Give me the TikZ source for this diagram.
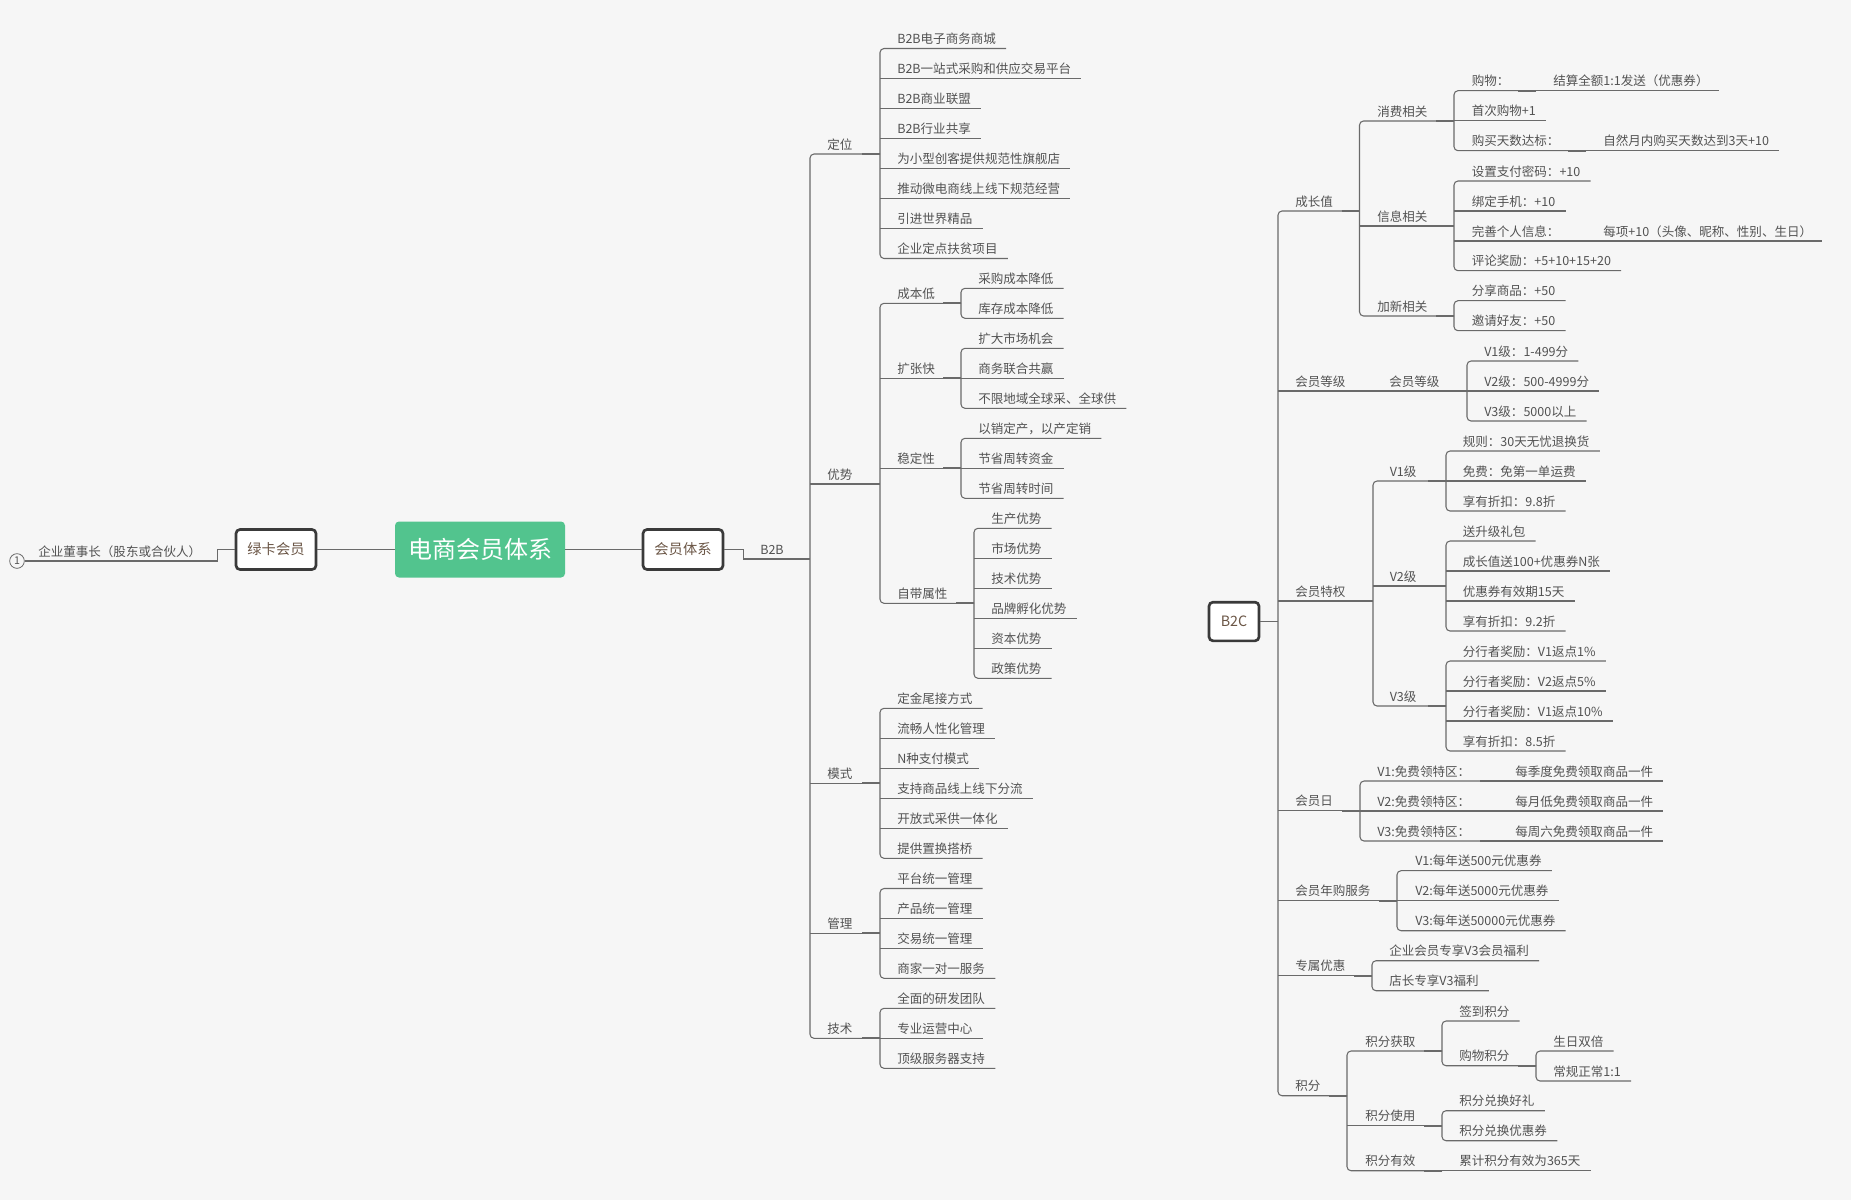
\documentclass[tikz,border=0pt]{standalone}
\usepackage{fontspec}
\newfontfamily\cjk{Noto Sans CJK SC}
\usetikzlibrary{calc}
\definecolor{bgc}{HTML}{F6F6F6}
\definecolor{lnc}{HTML}{6A6A6A}
\definecolor{txc}{HTML}{525252}
\definecolor{boxc}{HTML}{3A3A3A}
\definecolor{boxt}{HTML}{6B5646}
\definecolor{rootc}{HTML}{52C48E}
\tikzset{
  topic/.style={anchor=south west, inner xsep=0pt, inner ysep=2.4pt, text depth=1pt, text=txc, font=\cjk\fontsize{9.4}{11}\selectfont},
  conn/.style={draw=lnc, line width=0.8pt},
  rc/.style={rounded corners=3pt},
  branch/.style={draw=lnc, line width=1.5pt},
  mainline/.style={draw=lnc, line width=1.3pt},
  sub/.style={draw=boxc, line width=2pt, fill=white, rounded corners=3pt, minimum width=60pt, minimum height=30pt, text=boxt, font=\cjk\fontsize{10.7}{12}\selectfont},
  root/.style={fill=rootc, rounded corners=3pt, minimum width=127.5pt, minimum height=42pt, text=white, font=\cjk\fontsize{18}{20}\selectfont},
  numdot/.style={circle, draw=lnc, line width=0.6pt, inner sep=0pt, minimum size=11pt, text=txc, font=\cjk\fontsize{8}{9}\selectfont}
}
\begin{document}
\begin{tikzpicture}[x=0.75pt,y=0.75pt,yscale=-1,xscale=1]
\path[use as bounding box,fill=bgc] (0,0) rectangle (1851,1200);

% main topics
\node[root] (root) at (480,549.5) {电商会员体系};
\node[sub] (lk) at (276,549.5) {绿卡会员};
\node[sub] (hy) at (683,549.5) {会员体系};
\node[sub,minimum width=37.5pt,minimum height=29pt] (b2c) at (1234,621.5) {B2C};
\draw[mainline] (lk) -- (root);
\draw[mainline] (root) -- (hy);

% left branch
\node[numdot] (c1) at (17,561) {1};
\node[topic] (qy) at (38,561) {企业董事长（股东或合伙人）};
\draw[conn] (c1.east) -| ($(lk.west)+(-17,0)$) -- (lk.west);

% B2B
\node[topic] (b2b) at (760,559) {B2B};
\coordinate (b2b-t) at (810,559);
\draw[conn] (hy.east) -- ++(19,0) |- (b2b-t);

\node[topic] (dw) at (827,154) {定位};
\node[topic] (ys) at (827,484) {优势};
\node[topic] (ms) at (827,783.3) {模式};
\node[topic] (gl) at (827,933.3) {管理};
\node[topic] (js) at (827,1038.3) {技术};
\coordinate (dw-t) at (880,154);
\coordinate (ys-t) at (880,484);
\coordinate (ms-t) at (880,783.3);
\coordinate (gl-t) at (880,933.3);
\coordinate (js-t) at (880,1038.3);
\draw[conn,rc] (dw-t) -| (b2b-t) |- (js-t);
\foreach \c in {ys,ms,gl} \draw[conn] (b2b-t |- \c-t) -- (\c-t);

% 定位
\node[topic] (dw1) at (897,48.5) {B2B电子商务商城};
\node[topic] (dw2) at (897,78.5) {B2B一站式采购和供应交易平台};
\node[topic] (dw3) at (897,108.5) {B2B商业联盟};
\node[topic] (dw4) at (897,138.5) {B2B行业共享};
\node[topic] (dw5) at (897,168.5) {为小型创客提供规范性旗舰店};
\node[topic] (dw6) at (897,198.5) {推动微电商线上线下规范经营};
\node[topic] (dw7) at (897,228.5) {引进世界精品};
\node[topic] (dw8) at (897,258.5) {企业定点扶贫项目};
\draw[conn,rc] ($(dw1.south east)+(10,0)$) -| (dw-t) |- ($(dw8.south east)+(10,0)$);
\foreach \c in {dw2,dw3,dw4,dw5,dw6,dw7} \draw[conn] (dw-t |- \c.south) -- ($(\c.south east)+(10,0)$);

% 优势
\node[topic] (cbd) at (897,303.3) {成本低};
\node[topic] (kzk) at (897,378.3) {扩张快};
\node[topic] (wdx) at (897,468.3) {稳定性};
\node[topic] (zd) at (897,603.3) {自带属性};
\coordinate (cbd-t) at (961,303.3);
\coordinate (kzk-t) at (961,378.3);
\coordinate (wdx-t) at (961,468.3);
\coordinate (zd-t) at (974,603.3);
\draw[conn,rc] (cbd-t) -| (ys-t) |- (zd-t);
\foreach \c in {kzk,wdx} \draw[conn] (ys-t |- \c-t) -- (\c-t);

\node[topic] (c1a) at (978,288.3) {采购成本降低};
\node[topic] (c2a) at (978,318.3) {库存成本降低};
\draw[conn,rc] ($(c1a.south east)+(10,0)$) -| (cbd-t) |- ($(c2a.south east)+(10,0)$);

\node[topic] (k1) at (978,348.3) {扩大市场机会};
\node[topic] (k2) at (978,378.3) {商务联合共赢};
\node[topic] (k3) at (978,408.3) {不限地域全球采、全球供};
\draw[conn,rc] ($(k1.south east)+(10,0)$) -| (kzk-t) |- ($(k3.south east)+(10,0)$);
\draw[conn] (kzk-t) -- ($(k2.south east)+(10,0)$);

\node[topic] (w1) at (978,438.3) {以销定产，以产定销};
\node[topic] (w2) at (978,468.3) {节省周转资金};
\node[topic] (w3) at (978,498.3) {节省周转时间};
\draw[conn,rc] ($(w1.south east)+(10,0)$) -| (wdx-t) |- ($(w3.south east)+(10,0)$);
\draw[conn] (wdx-t) -- ($(w2.south east)+(10,0)$);

\node[topic] (z1) at (991,528.3) {生产优势};
\node[topic] (z2) at (991,558.3) {市场优势};
\node[topic] (z3) at (991,588.3) {技术优势};
\node[topic] (z4) at (991,618.3) {品牌孵化优势};
\node[topic] (z5) at (991,648.3) {资本优势};
\node[topic] (z6) at (991,678.3) {政策优势};
\draw[conn,rc] ($(z1.south east)+(10,0)$) -| (zd-t) |- ($(z6.south east)+(10,0)$);
\foreach \c in {z2,z3,z4,z5} \draw[conn] (zd-t |- \c.south) -- ($(\c.south east)+(10,0)$);

% 模式
\node[topic] (m1) at (897,708.3) {定金尾接方式};
\node[topic] (m2) at (897,738.3) {流畅人性化管理};
\node[topic] (m3) at (897,768.3) {N种支付模式};
\node[topic] (m4) at (897,798.3) {支持商品线上线下分流};
\node[topic] (m5) at (897,828.3) {开放式采供一体化};
\node[topic] (m6) at (897,858.3) {提供置换搭桥};
\draw[conn,rc] ($(m1.south east)+(10,0)$) -| (ms-t) |- ($(m6.south east)+(10,0)$);
\foreach \c in {m2,m3,m4,m5} \draw[conn] (ms-t |- \c.south) -- ($(\c.south east)+(10,0)$);

% 管理
\node[topic] (g1) at (897,888.5) {平台统一管理};
\node[topic] (g2) at (897,918.3) {产品统一管理};
\node[topic] (g3) at (897,948.3) {交易统一管理};
\node[topic] (g4) at (897,978.3) {商家一对一服务};
\draw[conn,rc] ($(g1.south east)+(10,0)$) -| (gl-t) |- ($(g4.south east)+(10,0)$);
\foreach \c in {g2,g3} \draw[conn] (gl-t |- \c.south) -- ($(\c.south east)+(10,0)$);

% 技术
\node[topic] (j1) at (897,1008.3) {全面的研发团队};
\node[topic] (j2) at (897,1038.3) {专业运营中心};
\node[topic] (j3) at (897,1068.3) {顶级服务器支持};
\draw[conn,rc] ($(j1.south east)+(10,0)$) -| (js-t) |- ($(j3.south east)+(10,0)$);
\draw[conn] (js-t) -- ($(j2.south east)+(10,0)$);

% B2C
\coordinate (b2c-t) at (1278,621.5);
\draw[mainline] (b2c.east) -- (b2c-t);
\node[topic] (czz) at (1295,211) {成长值};
\node[topic] (dj) at (1295,391) {会员等级};
\node[topic] (tq) at (1295,601) {会员特权};
\node[topic] (hyr) at (1295,810.7) {会员日};
\node[topic] (ng) at (1295,900.7) {会员年购服务};
\node[topic] (zs) at (1295,975.7) {专属优惠};
\node[topic] (jf) at (1295,1095.7) {积分};
\coordinate (czz-t) at (1359.5,211);
\coordinate (dj-t) at (1372,391);
\coordinate (tq-t) at (1373,601);
\coordinate (hyr-t) at (1360,810.7);
\coordinate (ng-t) at (1397,900.7);
\coordinate (zs-t) at (1372,975.7);
\coordinate (jf-t) at (1347,1095.7);
\draw[conn,rc] (czz-t) -| (b2c-t) |- (jf-t);
\foreach \c in {dj,tq,hyr,ng,zs} \draw[conn] (b2c-t |- \c-t) -- (\c-t);

% 成长值
\node[topic] (xf) at (1377,121) {消费相关};
\node[topic] (xx) at (1377,226) {信息相关};
\node[topic] (jx) at (1377,316) {加新相关};
\coordinate (xf-t) at (1454,121);
\coordinate (xx-t) at (1454,226);
\coordinate (jx-t) at (1454,316);
\draw[conn,rc] (xf-t) -| (czz-t) |- (jx-t);
\draw[conn] (czz-t |- xx-t) -- (xx-t);

\node[topic] (x1) at (1471.5,90.7) {购物：};
\node[topic] (x1a) at (1553,90.7) {结算全额1:1发送（优惠券）};
\node[topic] (x2) at (1471.5,120.7) {首次购物+1};
\node[topic] (x3) at (1471.5,150.7) {购买天数达标：};
\node[topic] (x3a) at (1603,150.7) {自然月内购买天数达到3天+10};
\coordinate (x1-t) at (1536,90.7);
\coordinate (x3-t) at (1586,150.7);
\draw[conn,rc] (x1-t) -| (xf-t) |- (x3-t);
\draw[conn] (xf-t |- x2.south) -- ($(x2.south east)+(10,0)$);
\draw[conn] (x1-t) -- ($(x1a.south east)+(10,0)$);
\draw[conn] (x3-t) -- ($(x3a.south east)+(10,0)$);

\node[topic] (i1) at (1471.5,181) {设置支付密码：+10};
\node[topic] (i2) at (1471.5,211) {绑定手机：+10};
\node[topic] (i3) at (1471.5,241) {完善个人信息：};
\node[topic] (i3a) at (1603,241) {每项+10（头像、昵称、性别、生日）};
\node[topic] (i4) at (1471.5,270.7) {评论奖励：+5+10+15+20};
\coordinate (i3-t) at (1586,241);
\draw[conn,rc] ($(i1.south east)+(10,0)$) -| (xx-t) |- ($(i4.south east)+(10,0)$);
\draw[conn] (xx-t |- i2.south) -- ($(i2.south east)+(10,0)$);
\draw[conn] (xx-t |- i3-t) -- (i3-t);
\draw[conn] (i3-t) -- ($(i3a.south east)+(10,0)$);

\node[topic] (a1) at (1471.5,300.7) {分享商品：+50};
\node[topic] (a2) at (1471.5,330.7) {邀请好友：+50};
\draw[conn,rc] ($(a1.south east)+(10,0)$) -| (jx-t) |- ($(a2.south east)+(10,0)$);

% 会员等级
\node[topic] (dj2) at (1389,391) {会员等级};
\coordinate (dj2-t) at (1467,391);
\draw[conn] (dj-t) -- (dj2-t);
\node[topic] (l1) at (1484,361) {V1级：1-499分};
\node[topic] (l2) at (1484,391) {V2级：500-4999分};
\node[topic] (l3) at (1484,421) {V3级：5000以上};
\draw[conn,rc] ($(l1.south east)+(10,0)$) -| (dj2-t) |- ($(l3.south east)+(10,0)$);
\draw[conn] (dj2-t) -- ($(l2.south east)+(10,0)$);

% 会员特权
\node[topic] (v1) at (1389.5,481) {V1级};
\node[topic] (v2) at (1389.5,586) {V2级};
\node[topic] (v3) at (1389.5,706) {V3级};
\coordinate (v1-t) at (1446,481);
\coordinate (v2-t) at (1446,586);
\coordinate (v3-t) at (1446,706);
\draw[conn,rc] (v1-t) -| (tq-t) |- (v3-t);
\draw[conn] (tq-t |- v2-t) -- (v2-t);

\node[topic] (p1) at (1462.5,451) {规则：30天无忧退换货};
\node[topic] (p2) at (1462.5,481) {免费：免第一单运费};
\node[topic] (p3) at (1462.5,511) {享有折扣：9.8折};
\draw[conn,rc] ($(p1.south east)+(10,0)$) -| (v1-t) |- ($(p3.south east)+(10,0)$);
\draw[conn] (v1-t) -- ($(p2.south east)+(10,0)$);

\node[topic] (q1) at (1462.5,541) {送升级礼包};
\node[topic] (q2) at (1462.5,571) {成长值送100+优惠券N张};
\node[topic] (q3) at (1462.5,601) {优惠券有效期15天};
\node[topic] (q4) at (1462.5,631) {享有折扣：9.2折};
\draw[conn,rc] ($(q1.south east)+(10,0)$) -| (v2-t) |- ($(q4.south east)+(10,0)$);
\foreach \c in {q2,q3} \draw[conn] (v2-t |- \c.south) -- ($(\c.south east)+(10,0)$);

\node[topic] (s1) at (1462.5,661) {分行者奖励：V1返点1\%};
\node[topic] (s2) at (1462.5,691) {分行者奖励：V2返点5\%};
\node[topic] (s3) at (1462.5,721) {分行者奖励：V1返点10\%};
\node[topic] (s4) at (1462.5,751) {享有折扣：8.5折};
\draw[conn,rc] ($(s1.south east)+(10,0)$) -| (v3-t) |- ($(s4.south east)+(10,0)$);
\foreach \c in {s2,s3} \draw[conn] (v3-t |- \c.south) -- ($(\c.south east)+(10,0)$);

% 会员日
\node[topic] (d1) at (1377,781) {V1:免费领特区：};
\node[topic] (d2) at (1377,811) {V2:免费领特区：};
\node[topic] (d3) at (1377,841) {V3:免费领特区：};
\node[topic] (d1a) at (1515,781) {每季度免费领取商品一件};
\node[topic] (d2a) at (1515,811) {每月低免费领取商品一件};
\node[topic] (d3a) at (1515,841) {每周六免费领取商品一件};
\coordinate (d1-t) at (1498,781);
\coordinate (d2-t) at (1498,811);
\coordinate (d3-t) at (1498,841);
\draw[conn,rc] (d1-t) -| (hyr-t) |- (d3-t);
\draw[conn] (hyr-t |- d2-t) -- (d2-t);
\foreach \c in {d1,d2,d3} \draw[conn] (\c-t) -- ($(\c a.south east)+(10,0)$);

% 会员年购服务
\node[topic] (n1) at (1415,870.7) {V1:每年送500元优惠券};
\node[topic] (n2) at (1415,900.7) {V2:每年送5000元优惠券};
\node[topic] (n3) at (1415,930.7) {V3:每年送50000元优惠券};
\draw[conn,rc] ($(n1.south east)+(10,0)$) -| (ng-t) |- ($(n3.south east)+(10,0)$);
\draw[conn] (ng-t) -- ($(n2.south east)+(10,0)$);

% 专属优惠
\node[topic] (e1) at (1389,960.7) {企业会员专享V3会员福利};
\node[topic] (e2) at (1389,990.7) {店长专享V3福利};
\draw[conn,rc] ($(e1.south east)+(10,0)$) -| (zs-t) |- ($(e2.south east)+(10,0)$);

% 积分
\node[topic] (f1) at (1365,1051) {积分获取};
\node[topic] (f2) at (1365,1125.7) {积分使用};
\node[topic] (f3) at (1365,1170.7) {积分有效};
\coordinate (f1-t) at (1442,1051);
\coordinate (f2-t) at (1442,1125.7);
\coordinate (f3-t) at (1442,1170.7);
\draw[conn,rc] (f1-t) -| (jf-t) |- (f3-t);
\draw[conn] (jf-t |- f2-t) -- (f2-t);

\node[topic] (h1) at (1459,1021) {签到积分};
\node[topic] (h2) at (1459,1065.7) {购物积分};
\coordinate (h2-t) at (1536,1065.7);
\draw[conn,rc] ($(h1.south east)+(10,0)$) -| (f1-t) |- (h2-t);
\node[topic] (h2a) at (1553,1051) {生日双倍};
\node[topic] (h2b) at (1553,1081) {常规正常1:1};
\draw[conn,rc] ($(h2a.south east)+(10,0)$) -| (h2-t) |- ($(h2b.south east)+(10,0)$);

\node[topic] (u1) at (1459,1110.7) {积分兑换好礼};
\node[topic] (u2) at (1459,1140.7) {积分兑换优惠券};
\draw[conn,rc] ($(u1.south east)+(10,0)$) -| (f2-t) |- ($(u2.south east)+(10,0)$);

\node[topic] (f3a) at (1459,1170.7) {累计积分有效为365天};
\draw[conn] (f3-t) -- ($(f3a.south east)+(10,0)$);

% thicker joints in front of each trunk
\foreach \t in {b2b,dw,ys,ms,gl,js,cbd,kzk,wdx,zd,czz,xf,xx,jx,x1,x3,i3,dj,dj2,tq,v1,v2,v3,hyr,d1,d2,d3,ng,zs,jf,f1,f2,f3,h2}
  \draw[branch] ($(\t-t)+(-18,0)$) -- (\t-t);
\end{tikzpicture}
\end{document}
